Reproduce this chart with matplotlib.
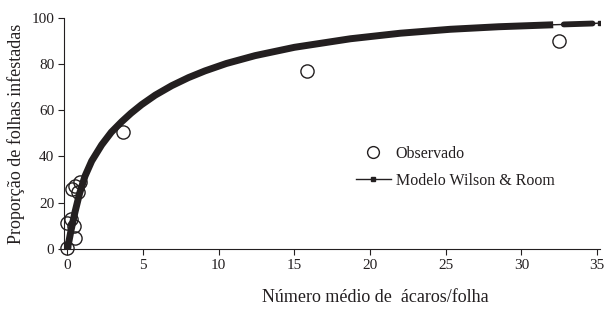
import matplotlib
matplotlib.use("Agg")
import matplotlib.pyplot as plt
from matplotlib.lines import Line2D
import numpy as np

plt.rcParams['font.family'] = ['Liberation Serif', 'DejaVu Serif']

ink = '#231f20'

# observed points
obs_x = [0.0, 0.5, 0.0, 0.45, 0.2, 0.3, 0.5, 0.8, 0.7, 3.7, 15.8, 32.5]
obs_y = [0.5, 4.5, 11.0, 10.0, 13.0, 26.0, 27.0, 29.0, 24.5, 50.7, 76.8, 90.0]

# model curve (Wilson & Room)
mod_x = [0.0, 0.25, 0.5, 0.8, 1.16, 1.6, 2.26, 2.9, 3.58, 4.2, 4.9, 5.8, 6.89,
         8.0, 9.09, 10.5, 12.4, 15.0, 18.7, 22.0, 25.3, 28.5, 31.9, 32.1,
         32.8, 34.7, 35.2]
mod_y = [0.0, 8.5, 16.0, 24.0, 31.5, 38.0, 45.0, 50.5, 55.0, 58.7, 62.4, 66.5,
         70.6, 74.1, 77.0, 80.2, 83.6, 87.2, 90.9, 93.3, 95.0, 96.1, 96.9,
         96.95, 97.1, 97.5, 97.7]

xticks = [0, 5, 10, 15, 20, 25, 30, 35]
yticks = [0, 20, 40, 60, 80, 100]

fig = plt.figure(figsize=(6.06, 3.11), dpi=100)
ax = fig.add_axes([0.1056, 0.1985, 0.8844, 0.7445])

mx = np.array(mod_x)
my = np.array(mod_y)
# thin line all along, thick where the markers are packed
ax.plot(mx, my, '-', color=ink, lw=1.0, zorder=3)
seg1 = mx <= 32.1
seg2 = (mx >= 32.8) & (mx <= 34.7)
ax.plot(mx[seg1], my[seg1], '-', color=ink, lw=5.0, solid_capstyle='butt',
        solid_joinstyle='round', zorder=3)
ax.plot(mx[seg2], my[seg2], '-', color=ink, lw=4.2, solid_capstyle='round', zorder=3)
ax.plot([mod_x[-1]], [mod_y[-1]], 's', color=ink, ms=3, zorder=3)
ax.plot([mod_x[0]], [mod_y[0]], 's', color=ink, ms=4, zorder=3)

ax.plot(obs_x, obs_y, 'o', mfc='none', mec=ink, ms=9.5, mew=1.0,
        clip_on=False, zorder=4)

ax.set_xlim(-0.23, 35.19)
ax.set_ylim(-0.17, 100)
ax.set_xticks(xticks)
ax.set_yticks(yticks)
ax.spines['top'].set_visible(False)
ax.spines['right'].set_visible(False)
for s in ['left', 'bottom']:
    ax.spines[s].set_color(ink)
    ax.spines[s].set_linewidth(0.8)
ax.tick_params(direction='out', length=4, width=0.8, colors=ink,
               labelsize=11, pad=3)

ax.set_ylabel('Proporção de folhas infestadas', fontsize=13, color=ink)
ax.yaxis.set_label_coords(-0.072, 0.5)
fig.text(375 / 606, 1 - 298 / 311, 'Número médio de  ácaros/folha',
         fontsize=13, color=ink, ha='center', va='center')

handles = [Line2D([], [], ls='none', marker='o', mfc='none', mec=ink, ms=8.5, mew=1.0),
           Line2D([], [], ls='-', lw=1.0, color=ink, marker='s', ms=3)]
ax.legend(handles, ['Observado', 'Modelo Wilson & Room'], frameon=False,
          loc='upper left', bbox_to_anchor=(293 / 538, 1 - 128 / 231.6),
          fontsize=11.5, handlelength=2.2, handletextpad=0.3,
          labelspacing=0.7, borderpad=0, borderaxespad=0, labelcolor=ink)

fig.savefig('out.png', dpi=100)
